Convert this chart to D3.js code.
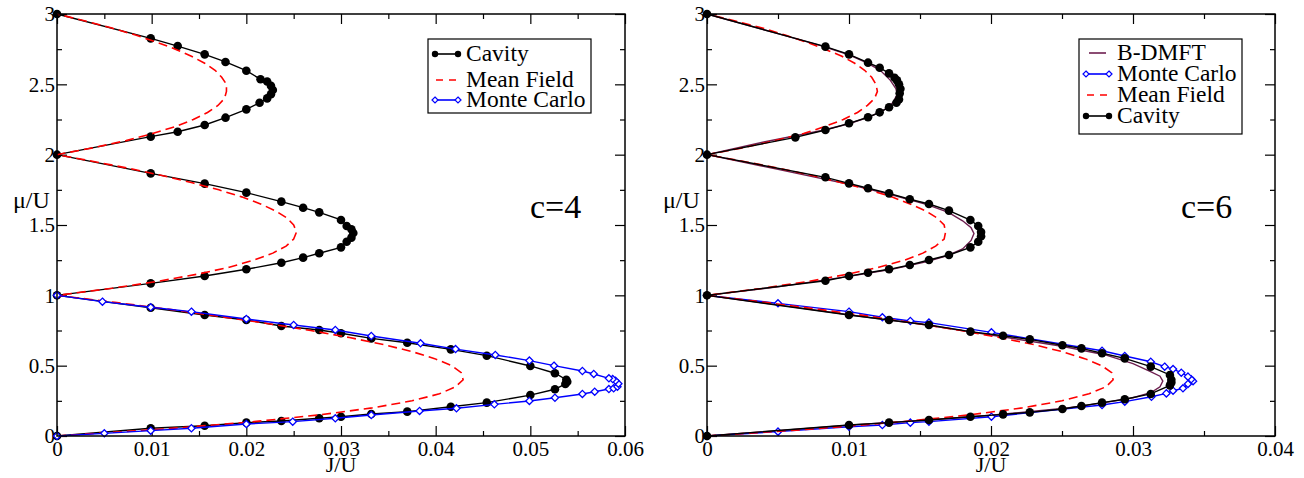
<!DOCTYPE html>
<html>
<head>
<meta charset="utf-8">
<script src="https://cdn.jsdelivr.net/npm/d3@7"></script>
<style>
    body { margin: 0; background: #fff; }
    svg text { font-family: "Liberation Serif", "Times New Roman", Times, "DejaVu Serif", serif; fill: #000; }
</style>
</head>
<body>
<svg id="chart" width="1304" height="478"></svg>
<script>
// ---- tick labels ----
const muTicks = [0, 0.5, 1, 1.5, 2, 2.5, 3];
const jTicksC4 = [0, 0.01, 0.02, 0.03, 0.04, 0.05, 0.06];
const jTicksC6 = [0, 0.01, 0.02, 0.03, 0.04];

// ---- c=4 panel, [J/U, mu/U] ----
const cavityC4 = [
    [0, 0], [0.0099, 0.055], [0.0156, 0.073], [0.0200, 0.095], [0.0237, 0.107], [0.0277, 0.126],
    [0.0300, 0.137], [0.0332, 0.156], [0.0370, 0.173], [0.0416, 0.208], [0.0454, 0.237], [0.0500, 0.291],
    [0.0526, 0.332], [0.0537, 0.370], [0.0539, 0.386], [0.0538, 0.400], [0.0526, 0.446], [0.0500, 0.498],
    [0.0454, 0.571], [0.0416, 0.616], [0.0370, 0.663], [0.0332, 0.694], [0.0300, 0.730], [0.0277, 0.754],
    [0.0237, 0.782], [0.0200, 0.825], [0.0156, 0.860], [0.0099, 0.912], [0, 1],
    [0.0099, 1.085], [0.0156, 1.137], [0.0200, 1.185], [0.0237, 1.232], [0.0260, 1.268], [0.0277, 1.299],
    [0.0300, 1.341], [0.0306, 1.381], [0.0311, 1.410], [0.0313, 1.443], [0.0311, 1.470], [0.0306, 1.493],
    [0.0300, 1.536], [0.0277, 1.590], [0.0260, 1.623], [0.0237, 1.666], [0.0200, 1.730], [0.0156, 1.794],
    [0.0099, 1.867], [0, 2],
    [0.0099, 2.128], [0.01275, 2.163], [0.0156, 2.211], [0.0178, 2.263], [0.0200, 2.322], [0.0214, 2.369],
    [0.0222, 2.400], [0.0226, 2.430], [0.0228, 2.460], [0.0226, 2.490], [0.0222, 2.520], [0.0215, 2.536],
    [0.0200, 2.597], [0.0178, 2.659], [0.0156, 2.713], [0.01275, 2.772], [0.0099, 2.827], [0, 3]
];

const monteCarloC4 = [
    [0, 0], [0.0050, 0.019], [0.0099, 0.038], [0.0142, 0.055], [0.0200, 0.085], [0.0249, 0.102],
    [0.0294, 0.126], [0.0332, 0.149], [0.0383, 0.178], [0.0422, 0.197], [0.0462, 0.225], [0.0499, 0.249],
    [0.0526, 0.272], [0.0555, 0.299], [0.0568, 0.315], [0.0583, 0.334], [0.0588, 0.339], [0.0592, 0.351],
    [0.0593, 0.372], [0.0590, 0.393], [0.0587, 0.405], [0.0583, 0.410], [0.0567, 0.441], [0.0555, 0.462],
    [0.0525, 0.500], [0.0499, 0.536], [0.0463, 0.576], [0.0421, 0.618], [0.0384, 0.659], [0.0332, 0.711],
    [0.0294, 0.754], [0.0250, 0.789], [0.0200, 0.832], [0.0142, 0.884], [0.0099, 0.915], [0.0048, 0.955], [0, 1]
];

// mean field curve, sampled in mu/U
const meanFieldMu = [
    0, 0.05, 0.1, 0.15, 0.2, 0.25, 0.3, 0.35, 0.4, 0.45, 0.5, 0.55, 0.6, 0.65, 0.7, 0.75, 0.8, 0.85, 0.9, 0.95,
    1, 1.05, 1.1, 1.15, 1.2, 1.25, 1.3, 1.35, 1.4, 1.45, 1.5, 1.55, 1.6, 1.65, 1.7, 1.75, 1.8, 1.85, 1.9, 1.95,
    2, 2.05, 2.1, 2.15, 2.2, 2.25, 2.3, 2.35, 2.4, 2.45, 2.5, 2.55, 2.6, 2.65, 2.7, 2.75, 2.8, 2.85, 2.9, 2.95, 3
];
const meanFieldC4 = [
    0, 0.0113, 0.0205, 0.0277, 0.0333, 0.0375, 0.0404, 0.0421, 0.0429, 0.0427, 0.0417, 0.0399, 0.0375, 0.0345, 0.0309, 0.0268, 0.0222, 0.0172, 0.0119, 0.0061,
    0, 0.0058, 0.0107, 0.0148, 0.0182, 0.0208, 0.0228, 0.0242, 0.0250, 0.0253, 0.0250, 0.0243, 0.0231, 0.0215, 0.0195, 0.0171, 0.0143, 0.0112, 0.0078, 0.0040,
    0, 0.0039, 0.0073, 0.0101, 0.0125, 0.0144, 0.0159, 0.0170, 0.0177, 0.0179, 0.0179, 0.0174, 0.0167, 0.0156, 0.0142, 0.0125, 0.0105, 0.0083, 0.0058, 0.0030, 0
];

// ---- c=6 panel ----
const meanFieldC6 = [
    0, 0.0075, 0.0136, 0.0185, 0.0222, 0.0250, 0.0269, 0.0281, 0.0286, 0.0285, 0.0278, 0.0266, 0.0250, 0.0230, 0.0206, 0.0179, 0.0148, 0.0115, 0.0079, 0.0041,
    0, 0.0039, 0.0072, 0.0099, 0.0121, 0.0139, 0.0152, 0.0161, 0.0167, 0.0168, 0.0167, 0.0162, 0.0154, 0.0143, 0.0130, 0.0114, 0.0095, 0.0075, 0.0052, 0.0027,
    0, 0.0026, 0.0048, 0.0068, 0.0083, 0.0096, 0.0106, 0.0113, 0.0118, 0.0120, 0.0119, 0.0116, 0.0111, 0.0104, 0.0095, 0.0083, 0.0070, 0.0055, 0.0039, 0.0020, 0
];

const cavityC6 = [
    [0, 0], [0.0100, 0.078], [0.01282, 0.095], [0.01563, 0.114], [0.01855, 0.137], [0.02085, 0.154],
    [0.02273, 0.168], [0.02503, 0.192], [0.02637, 0.213], [0.02782, 0.237], [0.02942, 0.261], [0.03125, 0.299],
    [0.0326, 0.360], [0.0327, 0.380], [0.0327, 0.400], [0.0326, 0.434], [0.03125, 0.493], [0.02942, 0.552],
    [0.02782, 0.588], [0.02637, 0.623], [0.02503, 0.645], [0.02273, 0.687], [0.02085, 0.713], [0.01855, 0.742],
    [0.01563, 0.789], [0.01282, 0.825], [0.0100, 0.860], [0, 1],
    [0.00834, 1.104], [0.0100, 1.137], [0.01134, 1.161], [0.01282, 1.185], [0.01428, 1.216], [0.01563, 1.251],
    [0.01704, 1.287], [0.01855, 1.341], [0.0191, 1.381], [0.0193, 1.420], [0.0193, 1.450], [0.0191, 1.493],
    [0.01855, 1.535], [0.01704, 1.602], [0.01563, 1.649], [0.01428, 1.683], [0.01282, 1.725], [0.01134, 1.761],
    [0.0100, 1.796], [0.00834, 1.839], [0, 2],
    [0.00622, 2.123], [0.00834, 2.175], [0.0100, 2.223], [0.01134, 2.266], [0.01216, 2.301], [0.01282, 2.337],
    [0.01334, 2.369], [0.01352, 2.393], [0.01357, 2.436], [0.01362, 2.469], [0.01352, 2.500], [0.01338, 2.528],
    [0.01321, 2.547], [0.01282, 2.578], [0.01216, 2.618], [0.01134, 2.654], [0.0100, 2.713], [0.00834, 2.768], [0, 3]
];

const monteCarloC6 = [
    [0, 0], [0.0050, 0.031], [0.0100, 0.066], [0.01235, 0.078], [0.01432, 0.095], [0.01563, 0.102],
    [0.02003, 0.137], [0.02782, 0.220], [0.02942, 0.244], [0.0313, 0.279], [0.03235, 0.303], [0.03282, 0.322],
    [0.03352, 0.339], [0.03387, 0.370], [0.03423, 0.390], [0.0341, 0.403], [0.03387, 0.422], [0.0334, 0.450],
    [0.03282, 0.476], [0.03223, 0.493], [0.03125, 0.528], [0.02942, 0.569], [0.02782, 0.606], [0.02003, 0.737],
    [0.01563, 0.806], [0.01432, 0.818], [0.01235, 0.844], [0.0100, 0.884], [0.0050, 0.943], [0, 1]
];

const bdmftC6 = [
    [0, 0], [0.005, 0.037], [0.010, 0.077], [0.015, 0.110], [0.020, 0.147], [0.025, 0.195], [0.028, 0.237],
    [0.030, 0.272], [0.0313, 0.310], [0.0319, 0.350], [0.0321, 0.390], [0.0319, 0.425], [0.0312, 0.460],
    [0.030, 0.515], [0.028, 0.578], [0.025, 0.638], [0.020, 0.718], [0.015, 0.795], [0.010, 0.862], [0.005, 0.932], [0, 1],
    [0.005, 1.060], [0.010, 1.135], [0.013, 1.185], [0.0155, 1.240], [0.017, 1.285], [0.018, 1.330], [0.0186, 1.390],
    [0.0188, 1.440], [0.0186, 1.480], [0.0180, 1.530], [0.017, 1.590], [0.0155, 1.645], [0.013, 1.715],
    [0.010, 1.790], [0.005, 1.895], [0, 2],
    [0.004, 2.090], [0.008, 2.170], [0.010, 2.220], [0.0115, 2.270], [0.0125, 2.320], [0.0131, 2.370], [0.0134, 2.430],
    [0.0133, 2.470], [0.0129, 2.530], [0.0122, 2.600], [0.0113, 2.650], [0.010, 2.710], [0.008, 2.775], [0.005, 2.860], [0, 3]
];

const colors = {
    cavity: "#000000",
    meanField: "#ff0000",
    monteCarlo: "#0000ff",
    bdmft: "#6e1f50"
};

const serif = "'Liberation Serif', 'Times New Roman', Times, 'DejaVu Serif', serif";
const svg = d3.select("#chart").attr("font-family", serif);
const plotTop = 14, plotBottom = 436;

function diamond(s) {
    return `M0,${-s}L${s},0L0,${s}L${-s},0Z`;
}

function drawSeries(g, x, y, key, pts) {
    const line = d3.line().x(d => x(d[0])).y(d => y(d[1]));
    const path = g.append("path")
        .attr("d", line(pts))
        .attr("fill", "none")
        .attr("stroke", colors[key])
        .attr("stroke-width", key === "meanField" ? 1.6 : 1.4);
    if (key === "meanField") path.attr("stroke-dasharray", "9,5");

    if (key === "cavity") {
        g.append("g").selectAll("circle").data(pts).join("circle")
            .attr("cx", d => x(d[0])).attr("cy", d => y(d[1]))
            .attr("r", 4.3).attr("fill", colors.cavity);
    }
    if (key === "monteCarlo") {
        g.append("g").selectAll("path").data(pts).join("path")
            .attr("transform", d => `translate(${x(d[0])},${y(d[1])})`)
            .attr("d", diamond(3.6))
            .attr("fill", "#fff").attr("stroke", colors.monteCarlo).attr("stroke-width", 1.3);
    }
}

function drawLegend(g, box, entries) {
    g.append("rect")
        .attr("x", box.x).attr("y", box.y).attr("width", box.w).attr("height", box.h)
        .attr("fill", "#fff").attr("stroke", "#000").attr("stroke-width", 1.2);
    entries.forEach(e => {
        const sy = e.base - 7;
        const x1 = box.x + 7, x2 = box.x + 30;
        if (e.key === "meanField") {
            g.append("line").attr("x1", x1 + 1).attr("x2", x2 - 1).attr("y1", sy).attr("y2", sy)
                .attr("stroke", colors.meanField).attr("stroke-width", 1.6).attr("stroke-dasharray", "7,6");
        } else if (e.key === "bdmft") {
            g.append("line").attr("x1", x1 + 3).attr("x2", x2 - 3).attr("y1", sy).attr("y2", sy)
                .attr("stroke", colors.bdmft).attr("stroke-width", 1.6);
        } else {
            g.append("line").attr("x1", x1).attr("x2", x2).attr("y1", sy).attr("y2", sy)
                .attr("stroke", colors[e.key]).attr("stroke-width", 1.6);
            [x1, x2].forEach(px => {
                if (e.key === "cavity") {
                    g.append("circle").attr("cx", px).attr("cy", sy).attr("r", 3.2).attr("fill", "#000");
                } else {
                    g.append("path").attr("transform", `translate(${px},${sy})`).attr("d", diamond(3))
                        .attr("fill", "#fff").attr("stroke", colors.monteCarlo).attr("stroke-width", 1.2);
                }
            });
        }
        g.append("text").attr("x", box.x + 38).attr("y", e.base)
            .attr("font-family", serif).attr("font-size", 23.5).text(e.label);
    });
}

function drawPanel(p) {
    const x = d3.scaleLinear().domain([0, p.xMax]).range([p.left, p.right]);
    const y = d3.scaleLinear().domain([0, 3]).range([plotBottom, plotTop]);
    const g = svg.append("g");

    const fmtJ = d => d === 0 ? "0" : d3.format(".2f")(d);
    const fmtMu = d3.format("~g");
    const xMinor = d3.range(0.005, p.xMax, 0.01);
    const yMinor = d3.range(0.25, 3, 0.5);

    const axes = [
        [d3.axisBottom(x).tickValues(p.xTicks).tickSize(-10).tickPadding(5).tickFormat(fmtJ), `translate(0,${plotBottom})`],
        [d3.axisBottom(x).tickValues(xMinor).tickSize(-5).tickFormat(""), `translate(0,${plotBottom})`],
        [d3.axisTop(x).tickValues(p.xTicks).tickSize(-10).tickFormat(""), `translate(0,${plotTop})`],
        [d3.axisTop(x).tickValues(xMinor).tickSize(-5).tickFormat(""), `translate(0,${plotTop})`],
        [d3.axisLeft(y).tickValues(muTicks).tickSize(-10).tickPadding(2).tickFormat(fmtMu), `translate(${p.left},0)`],
        [d3.axisLeft(y).tickValues(yMinor).tickSize(-5).tickFormat(""), `translate(${p.left},0)`],
        [d3.axisRight(y).tickValues(muTicks).tickSize(-10).tickFormat(""), `translate(${p.right},0)`],
        [d3.axisRight(y).tickValues(yMinor).tickSize(-5).tickFormat(""), `translate(${p.right},0)`]
    ];
    axes.forEach(([ax, tr]) => {
        const a = g.append("g").attr("transform", tr).call(ax)
            .attr("font-family", serif).attr("font-size", 21);
        a.select(".domain").remove();
        a.selectAll(".tick line").attr("stroke", "#000").attr("stroke-width", 1.2);
        a.selectAll(".tick text").attr("fill", "#000");
    });

    const plot = g.append("g");
    p.series.forEach(s => drawSeries(plot, x, y, s.key, s.pts));

    g.append("rect")
        .attr("x", p.left).attr("y", plotTop)
        .attr("width", p.right - p.left).attr("height", plotBottom - plotTop)
        .attr("fill", "none").attr("stroke", "#000").attr("stroke-width", 1.5);

    drawLegend(g, p.legendBox, p.legend);

    g.append("text").attr("x", (p.left + p.right) / 2).attr("y", 472)
        .attr("text-anchor", "middle").attr("font-family", serif).attr("font-size", 22).text("J/U");
    g.append("text").attr("x", p.left - 44).attr("y", 208)
        .attr("font-family", serif).attr("font-size", 24).text("μ/U");
    g.append("text").attr("x", p.tagX).attr("y", 218)
        .attr("font-family", serif).attr("font-size", 34).text(p.tag);
}

const mfPoints = js => meanFieldMu.map((m, i) => [js[i], m]);

drawPanel({
    left: 57, right: 625, xMax: 0.06, xTicks: jTicksC4,
    tag: "c=4", tagX: 530,
    series: [
        { key: "cavity", pts: cavityC4 },
        { key: "meanField", pts: mfPoints(meanFieldC4) },
        { key: "monteCarlo", pts: monteCarloC4 }
    ],
    legendBox: { x: 428, y: 39, w: 163, h: 74 },
    legend: [
        { key: "cavity", label: "Cavity", base: 61 },
        { key: "meanField", label: "Mean Field", base: 87 },
        { key: "monteCarlo", label: "Monte Carlo", base: 107 }
    ]
});

drawPanel({
    left: 707, right: 1275, xMax: 0.04, xTicks: jTicksC6,
    tag: "c=6", tagX: 1181,
    series: [
        { key: "bdmft", pts: bdmftC6 },
        { key: "monteCarlo", pts: monteCarloC6 },
        { key: "meanField", pts: mfPoints(meanFieldC6) },
        { key: "cavity", pts: cavityC6 }
    ],
    legendBox: { x: 1079, y: 39, w: 163, h: 95 },
    legend: [
        { key: "bdmft", label: "B-DMFT", base: 60 },
        { key: "monteCarlo", label: "Monte Carlo", base: 81 },
        { key: "meanField", label: "Mean Field", base: 102 },
        { key: "cavity", label: "Cavity", base: 123 }
    ]
});
</script>
</body>
</html>
